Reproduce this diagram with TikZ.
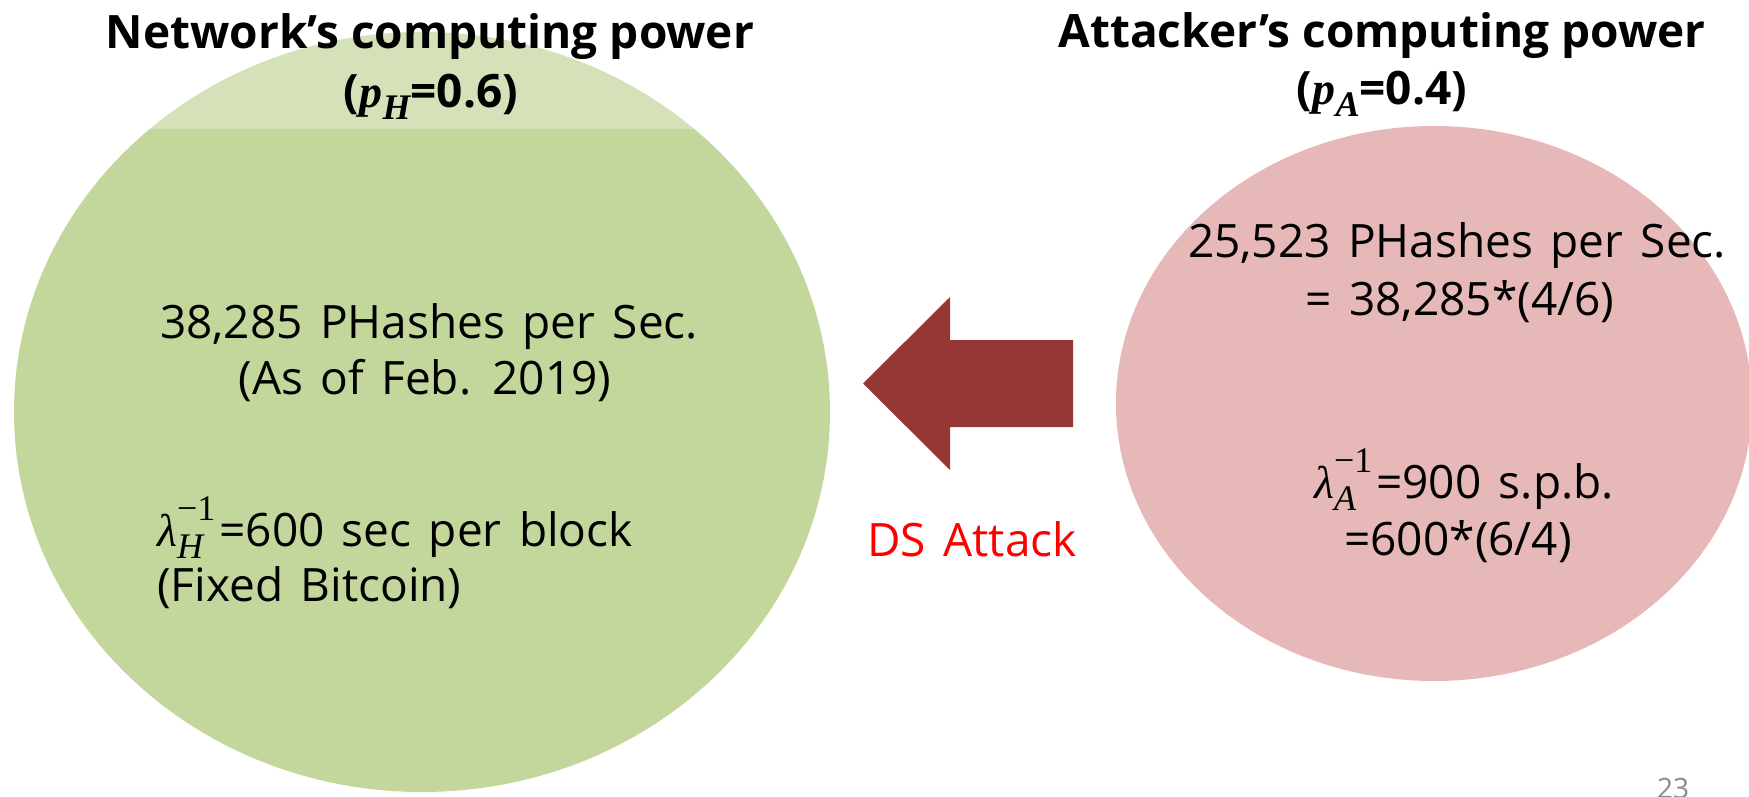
\documentclass[tikz,border=0pt]{standalone}
\usepackage{fontspec}
\setmainfont{Open Sans}
\newfontfamily\bodyfont[WordSpace=1.45]{Open Sans}
\newfontfamily\symfont{Liberation Serif}
\usetikzlibrary{shapes.geometric}

\definecolor{netgreen}{RGB}{195,214,155}
\definecolor{atkpink}{RGB}{230,185,184}
\definecolor{arrowred}{RGB}{149,55,53}
\definecolor{pagegray}{RGB}{137,137,137}

% italic symbol with a lowered subscript (bold, for the headings)
\newcommand\boldsub[2]{{\symfont\bfseries\itshape #1}\raisebox{-0.24em}{\fontsize{36}{36}\selectfont\symfont\bfseries\itshape #2}}
% inverse rate: lambda with a subscript and a -1 exponent stacked over it
\newcommand\invrate[1]{{\symfont\itshape λ}\makebox[0pt][l]{\raisebox{-0.27em}{\fontsize{36}{36}\selectfont\symfont\itshape #1}}\raisebox{0.55em}{\fontsize{36}{36}\selectfont\symfont −1}\hspace{4pt}}

\tikzset{
  body/.style={font=\fontsize{46}{57}\selectfont\bodyfont, inner sep=0pt, anchor=base},
  heading/.style={font=\fontsize{46}{57}\selectfont\bfseries, inner sep=0pt, anchor=base},
  blob/.style={ellipse, inner sep=0pt, draw=none},
}

\begin{document}
\begin{tikzpicture}[x=1pt, y=-1pt]
  \useasboundingbox (0,0) rectangle (1749,797);
  \clip (0,0) rectangle (1749,797);

  % the two computing-power ellipses
  \node[blob, fill=netgreen, minimum width=816pt, minimum height=760pt] (net) at (422,412) {};
  \node[blob, fill=atkpink, minimum width=636pt, minimum height=555pt] (atk) at (1434,403.5) {};

  % translucent title box over the top of the network ellipse
  \fill[white, opacity=0.3] (60,0) rectangle (800,129);

  % titles
  \node[heading] (nettitle) at (430,49) {Network’s computing power};
  \node[heading] (netp) at (431,108) {(\boldsub{p}{H}=0.6)};
  \node[heading] (atktitle) at (1382,48) {Attacker’s computing power};
  \node[heading] (atkp) at (1382,105) {(\boldsub{p}{A}=0.4)};

  % network figures
  \node[body] (netrate) at (429,338) {38,285 PHashes per Sec.};
  \node[body] (netdate) at (425,394) {(As of Feb. 2019)};
  \node[body, anchor=base west] (netlam) at (157,546) {\invrate{H}=600 sec per block};
  \node[body, anchor=base west] (netfix) at (157,601) {(Fixed Bitcoin)};

  % attacker figures
  \node[body] (atkrate) at (1457,257) {25,523 PHashes per Sec.};
  \node[body] (atkcalc) at (1460,315) {= 38,285*(4/6)};
  \node[body] (atklam) at (1464,498) {\invrate{A}=900 s.p.b.};
  \node[body] (atklcalc) at (1458,555) {=600*(6/4)};

  % block arrow pointing from the attacker to the network
  \coordinate (tip) at (863,383.5);
  \fill[arrowred] (tip) -- (950,297) -- (950,340) -- (1073,340)
    -- (1073,427) -- (950,427) -- (950,470) -- cycle;
  \node[body, text=red] (ds) at (972,556) {DS Attack};

  % slide number
  \node[inner sep=0pt, anchor=base, text=pagegray, font=\fontsize{28}{34}\selectfont] (page) at (1673,798) {23};
\end{tikzpicture}
\end{document}
